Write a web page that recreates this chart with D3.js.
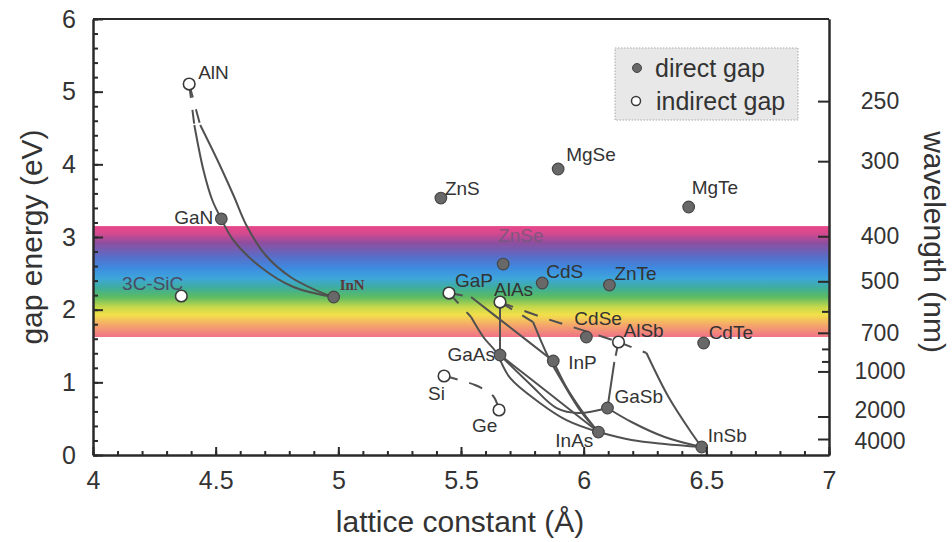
<!DOCTYPE html>
<html>
<head>
<meta charset="utf-8">
<script src="https://cdn.jsdelivr.net/npm/d3@7"></script>
<style>
  html, body { margin: 0; padding: 0; background: #fff; }
  svg text { font-family: "Liberation Sans", Arial, Helvetica, sans-serif; fill: #333; }
</style>
</head>
<body>
<div id="vis-display"></div>
<script>
// Band gap vs lattice constant for common semiconductors, with the visible band behind.
// Values (lattice constant in Å, gap in eV).

const DIRECT = [
  ["GaN",  4.523, 3.25],
  ["InN",  4.981, 2.174],
  ["ZnS",  5.418, 3.536],
  ["MgSe", 5.896, 3.936],
  ["MgTe", 6.428, 3.413],
  ["ZnSe", 5.672, 2.628],
  ["CdS",  5.831, 2.367],
  ["ZnTe", 6.105, 2.339],
  ["CdSe", 6.011, 1.624],
  ["CdTe", 6.489, 1.541],
  ["GaAs", 5.659, 1.376],
  ["InP",  5.876, 1.294],
  ["GaSb", 6.097, 0.647],
  ["InAs", 6.060, 0.316],
  ["InSb", 6.481, 0.110],
];

const INDIRECT = [
  ["AlN",    4.392, 5.105],
  ["3C-SiC", 4.360, 2.188],
  ["GaP",    5.451, 2.229],
  ["AlAs",   5.659, 2.105],
  ["AlSb",   6.142, 1.555],
  ["Si",     5.431, 1.087],
  ["Ge",     5.655, 0.619],
];

// alloy curves, solid parts
const SOLID_CURVES = [
  [[4.413, 4.541], [4.450, 3.922], [4.486, 3.509], [4.523, 3.250]],                                   // AlN-GaN
  [[4.437, 4.541], [4.507, 4.059], [4.572, 3.578], [4.629, 3.137], [4.703, 2.752], [4.805, 2.449], [4.907, 2.270], [4.981, 2.174]], // AlN-InN
  [[4.523, 3.250], [4.572, 2.958], [4.683, 2.587], [4.817, 2.312], [4.981, 2.174]],                  // GaN-InN
  [[5.541, 2.174], [5.710, 1.730], [5.876, 1.294]],                                                   // GaP-InP
  [[5.541, 1.899], [5.594, 1.610], [5.640, 1.430], [5.700, 1.060], [5.820, 0.720], [5.930, 0.480], [6.060, 0.316]], // GaP-..-InAs
  [[5.659, 2.105], [5.659, 1.376]],                                                                   // AlAs-GaAs
  [[5.794, 1.830], [5.856, 1.349], [5.909, 1.032], [5.990, 0.592], [6.060, 0.316]],                  // AlAs-InAs
  [[5.876, 1.294], [5.929, 0.936], [5.999, 0.578], [6.060, 0.316]],                                  // InP-InAs
  [[5.659, 1.376], [5.860, 0.846], [6.060, 0.316]],                                                   // GaAs-InAs
  [[5.659, 1.376], [5.785, 0.964], [5.890, 0.646], [5.980, 0.578], [6.097, 0.647]],                  // GaAs-GaSb
  [[6.060, 0.316], [6.195, 0.206], [6.330, 0.151], [6.481, 0.110]],                                  // InAs-InSb
  [[6.097, 0.647], [6.195, 0.454], [6.330, 0.248], [6.481, 0.110]],                                  // GaSb-InSb
  [[6.125, 1.280], [6.097, 0.647]],                                                                   // AlSb-GaSb
  [[6.256, 1.404], [6.346, 0.798], [6.440, 0.303], [6.481, 0.110]],                                  // AlSb-InSb
];

// indirect ends and indirect-indirect alloys, dashed
const DASHED_CURVES = [
  [[4.392, 5.105], [4.413, 4.541]],
  [[4.392, 5.105], [4.437, 4.541]],
  [[5.451, 2.229], [5.541, 2.174]],
  [[5.451, 2.229], [5.541, 1.899]],
  [[5.659, 2.105], [5.794, 1.830]],
  [[6.142, 1.555], [6.125, 1.280]],
  [[6.142, 1.555], [6.256, 1.404]],
  [[5.659, 2.105], [5.827, 1.899], [5.929, 1.789], [6.031, 1.679], [6.142, 1.555]], // AlAs-AlSb
  [[5.431, 1.087], [5.557, 0.963], [5.631, 0.812], [5.655, 0.619]],                 // Si-Ge
];

const VISIBLE_BAND = [1.624, 3.15];   // eV

const X_TICKS  = [4, 4.5, 5, 5.5, 6, 6.5, 7];
const Y_TICKS  = [0, 1, 2, 3, 4, 5, 6];
const WL_TICKS = [250, 300, 400, 500, 700, 1000, 2000, 4000];   // nm, labelled
const WL_MINOR = [600, 800, 900];
const HC       = 1240;   // eV·nm
const WL_SHIFT = 0.09;   // right scale sits a little low in the original

// label placement: dx, dy from marker, anchor
const LABEL_POS = {
  "AlN":    [9, -12, "start"],
  "GaN":    [-8, -1, "end"],
  "InN":    [6, -12, "start"],
  "3C-SiC": [2, -13, "end"],
  "ZnS":    [4, -10, "start"],
  "MgSe":   [8, -14, "start"],
  "MgTe":   [3, -19, "start"],
  "ZnSe":   [-5, -29, "start"],
  "CdS":    [4, -11, "start"],
  "ZnTe":   [5, -12, "start"],
  "GaP":    [6, -13, "start"],
  "AlAs":   [-6, -13, "start"],
  "CdSe":   [-12, -18, "start"],
  "AlSb":   [5, -12, "start"],
  "CdTe":   [5, -11, "start"],
  "GaAs":   [-5, -1, "end"],
  "InP":    [15, 2, "start"],
  "Si":     [-16, 17, "start"],
  "Ge":     [-27, 15, "start"],
  "GaSb":   [7, -11, "start"],
  "InAs":   [-5, 8, "end"],
  "InSb":   [6, -12, "start"],
};

const W = 952, H = 542;
const margin = { top: 19, right: 123, bottom: 87, left: 93 };
const innerW = W - margin.left - margin.right;
const innerH = H - margin.top - margin.bottom;

const x = d3.scaleLinear().domain([4, 7]).range([0, innerW]);
const y = d3.scaleLinear().domain([0, 6]).range([innerH, 0]);

const svg = d3.select("#vis-display").append("svg")
  .attr("width", W).attr("height", H);

const defs = svg.append("defs");
const grad = defs.append("linearGradient")
  .attr("id", "spectrum").attr("x1", 0).attr("x2", 0).attr("y1", 0).attr("y2", 1);
[
  [0.00, "#e8468a"], [0.06, "#d8498e"], [0.15, "#8f4e9e"], [0.27, "#5a6cc6"],
  [0.38, "#3d8be0"], [0.47, "#3ea6dc"], [0.56, "#3fae9a"], [0.64, "#5cbb62"],
  [0.73, "#c6d84a"], [0.80, "#f2e04a"], [0.89, "#f5a86a"], [1.00, "#f07288"],
].forEach(([o, c]) => grad.append("stop").attr("offset", o).attr("stop-color", c));

const g = svg.append("g").attr("transform", `translate(${margin.left},${margin.top})`);

// ── Visible band ───────────────────────────────────────────────────────────
g.append("rect")
  .attr("x", 0).attr("width", innerW)
  .attr("y", y(VISIBLE_BAND[1]))
  .attr("height", y(VISIBLE_BAND[0]) - y(VISIBLE_BAND[1]))
  .attr("fill", "url(#spectrum)");

// ── Alloy curves ───────────────────────────────────────────────────────────
const line = d3.line()
  .x(d => x(d[0])).y(d => y(d[1]))
  .curve(d3.curveCatmullRom.alpha(0.5));

g.append("g").selectAll("path")
  .data(SOLID_CURVES)
  .join("path")
    .attr("d", line)
    .attr("fill", "none")
    .attr("stroke", "#505050")
    .attr("stroke-width", 2);

g.append("g").selectAll("path")
  .data(DASHED_CURVES)
  .join("path")
    .attr("d", line)
    .attr("fill", "none")
    .attr("stroke", "#505050")
    .attr("stroke-width", 2)
    .attr("stroke-dasharray", "14,12");

// ── Markers ────────────────────────────────────────────────────────────────
g.append("g").selectAll("circle")
  .data(DIRECT)
  .join("circle")
    .attr("cx", d => x(d[1])).attr("cy", d => y(d[2])).attr("r", 5.8)
    .attr("fill", "#686868").attr("stroke", "#464646").attr("stroke-width", 1.2);

g.append("g").selectAll("circle")
  .data(INDIRECT)
  .join("circle")
    .attr("cx", d => x(d[1])).attr("cy", d => y(d[2])).attr("r", 5.8)
    .attr("fill", "#fff").attr("stroke", "#3a3a3a").attr("stroke-width", 1.6);

// ── Labels ─────────────────────────────────────────────────────────────────
g.append("g").selectAll("text")
  .data([...DIRECT, ...INDIRECT])
  .join("text")
    .attr("x", d => x(d[1]) + LABEL_POS[d[0]][0])
    .attr("y", d => y(d[2]) + LABEL_POS[d[0]][1])
    .attr("text-anchor", d => LABEL_POS[d[0]][2])
    .attr("dominant-baseline", "central")
    .style("fill", d => d[0] === "ZnSe" ? "#6a5a78" : d[0] === "3C-SiC" ? "#4a4a66" : d[0] === "InN" ? "#5a3a3a" : "#333")
    .style("opacity", d => d[0] === "ZnSe" ? 0.75 : 1)
    .style("font-family", d => d[0] === "InN" ? "'Liberation Serif', serif" : null)
    .style("font-weight", d => d[0] === "InN" ? "bold" : null)
    .style("font-size", d => d[0] === "InN" ? "15px" : "19px")
    .text(d => d[0]);

// ── Axes ───────────────────────────────────────────────────────────────────
function styleAxis(ax) {
  ax.select(".domain").attr("stroke", "#2a2a2a").attr("stroke-width", 2);
  ax.selectAll(".tick line").attr("stroke", "#2a2a2a").attr("stroke-width", 2);
  ax.selectAll("text").style("font-size", "25px").style("fill", "#333");
}

// minor ticks first, so major ones sit on top
g.append("g")
  .call(d3.axisLeft(y).ticks(30).tickSize(-5).tickSizeOuter(0).tickFormat(""))
  .call(styleAxis);
g.append("g")
  .attr("transform", `translate(0,${innerH})`)
  .call(d3.axisBottom(x).ticks(30).tickSize(-4).tickSizeOuter(0).tickFormat(""))
  .call(styleAxis);

g.append("g")
  .call(d3.axisLeft(y).tickValues(Y_TICKS).tickSize(-10).tickSizeOuter(0).tickPadding(17)
    .tickFormat(d3.format("d")))
  .call(styleAxis);

g.append("g")
  .attr("transform", `translate(0,${innerH})`)
  .call(d3.axisBottom(x).tickValues(X_TICKS).tickSize(-8).tickSizeOuter(0).tickPadding(16)
    .tickFormat(d3.format("~g")))
  .call(styleAxis);

// top edge, no ticks
g.append("line")
  .attr("x1", 0).attr("x2", innerW).attr("y1", 0).attr("y2", 0)
  .attr("stroke", "#2a2a2a").attr("stroke-width", 2);

// right: wavelength
const wlToE = nm => HC / nm - WL_SHIFT;
g.append("g")
  .attr("transform", `translate(${innerW},0)`)
  .call(d3.axisRight(y).tickValues(WL_MINOR.map(wlToE)).tickSize(-7).tickSizeOuter(0).tickFormat(""))
  .call(styleAxis);
g.append("g")
  .attr("transform", `translate(${innerW},0)`)
  .call(d3.axisRight(y).tickValues(WL_TICKS.map(wlToE)).tickSize(-11).tickSizeOuter(0)
    .tickFormat((d, i) => WL_TICKS[i]))
  .call(styleAxis)
  .call(ax => ax.selectAll("text")
    .attr("x", 51).attr("text-anchor", "middle")
    .style("font-size", "23px")
    // the two lowest labels crowd each other; spread them a touch as in the original
    .attr("dy", (d, i) => WL_TICKS[i] === 2000 ? "0.05em" : WL_TICKS[i] === 4000 ? "0.4em" : "0.32em"));

// ── Titles ─────────────────────────────────────────────────────────────────
svg.append("text")
  .attr("x", 460).attr("y", 532)
  .attr("text-anchor", "middle")
  .style("font-size", "30px")
  .text("lattice constant (Å)");

svg.append("text")
  .attr("transform", "translate(42,237) rotate(-90)")
  .attr("text-anchor", "middle")
  .style("font-size", "30px")
  .text("gap energy (eV)");

svg.append("text")
  .attr("transform", "translate(924,242) rotate(90)")
  .attr("text-anchor", "middle")
  .style("font-size", "30px")
  .text("wavelength (nm)");

// ── Legend ─────────────────────────────────────────────────────────────────
const legend = svg.append("g").attr("transform", "translate(615,48)");
legend.append("rect")
  .attr("width", 183).attr("height", 72)
  .attr("fill", "#e8e8e8").attr("stroke", "#a8a8a8")
  .attr("stroke-dasharray", "1.5,1.5");
legend.append("circle").attr("cx", 22).attr("cy", 20).attr("r", 4.5)
  .attr("fill", "#686868").attr("stroke", "#464646");
legend.append("circle").attr("cx", 21).attr("cy", 53).attr("r", 4.5)
  .attr("fill", "#fff").attr("stroke", "#3a3a3a").attr("stroke-width", 1.5);
legend.append("text").attr("x", 40).attr("y", 20).attr("dominant-baseline", "central")
  .style("font-size", "25px").text("direct gap");
legend.append("text").attr("x", 41).attr("y", 53).attr("dominant-baseline", "central")
  .style("font-size", "25px").text("indirect gap");
</script>
</body>
</html>
